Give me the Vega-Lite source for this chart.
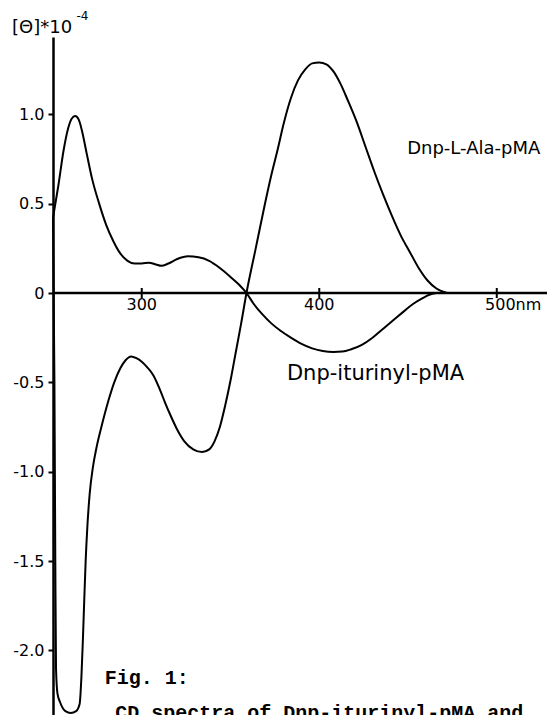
{
  "$schema": "https://vega.github.io/schema/vega-lite/v6.json",
  "width": 494,
  "height": 678,
  "autosize": {"type": "none"},
  "padding": {"left": 53, "top": 37, "right": 0, "bottom": 0},
  "background": "white",
  "config": {"view": {"stroke": null}},
  "datasets": {
    "curves": [
      {"series": "Dnp-iturinyl-pMA", "lam": 250, "v": 0.42},
      {"series": "Dnp-iturinyl-pMA", "lam": 253, "v": 0.6},
      {"series": "Dnp-iturinyl-pMA", "lam": 256, "v": 0.8},
      {"series": "Dnp-iturinyl-pMA", "lam": 258.5, "v": 0.92},
      {"series": "Dnp-iturinyl-pMA", "lam": 260.5, "v": 0.975},
      {"series": "Dnp-iturinyl-pMA", "lam": 262.5, "v": 0.99},
      {"series": "Dnp-iturinyl-pMA", "lam": 264.5, "v": 0.97},
      {"series": "Dnp-iturinyl-pMA", "lam": 266.5, "v": 0.9},
      {"series": "Dnp-iturinyl-pMA", "lam": 269, "v": 0.78},
      {"series": "Dnp-iturinyl-pMA", "lam": 272, "v": 0.64},
      {"series": "Dnp-iturinyl-pMA", "lam": 276, "v": 0.5},
      {"series": "Dnp-iturinyl-pMA", "lam": 280, "v": 0.38},
      {"series": "Dnp-iturinyl-pMA", "lam": 284, "v": 0.29},
      {"series": "Dnp-iturinyl-pMA", "lam": 288, "v": 0.22},
      {"series": "Dnp-iturinyl-pMA", "lam": 292, "v": 0.18},
      {"series": "Dnp-iturinyl-pMA", "lam": 296, "v": 0.165},
      {"series": "Dnp-iturinyl-pMA", "lam": 300, "v": 0.165},
      {"series": "Dnp-iturinyl-pMA", "lam": 304, "v": 0.17},
      {"series": "Dnp-iturinyl-pMA", "lam": 308, "v": 0.16},
      {"series": "Dnp-iturinyl-pMA", "lam": 311, "v": 0.152},
      {"series": "Dnp-iturinyl-pMA", "lam": 315, "v": 0.165},
      {"series": "Dnp-iturinyl-pMA", "lam": 320, "v": 0.19},
      {"series": "Dnp-iturinyl-pMA", "lam": 326, "v": 0.205},
      {"series": "Dnp-iturinyl-pMA", "lam": 332, "v": 0.2},
      {"series": "Dnp-iturinyl-pMA", "lam": 338, "v": 0.18},
      {"series": "Dnp-iturinyl-pMA", "lam": 344, "v": 0.14},
      {"series": "Dnp-iturinyl-pMA", "lam": 350, "v": 0.09},
      {"series": "Dnp-iturinyl-pMA", "lam": 355, "v": 0.045},
      {"series": "Dnp-iturinyl-pMA", "lam": 359, "v": 0.0},
      {"series": "Dnp-iturinyl-pMA", "lam": 363, "v": -0.06},
      {"series": "Dnp-iturinyl-pMA", "lam": 368, "v": -0.12},
      {"series": "Dnp-iturinyl-pMA", "lam": 373, "v": -0.17},
      {"series": "Dnp-iturinyl-pMA", "lam": 378, "v": -0.21},
      {"series": "Dnp-iturinyl-pMA", "lam": 384, "v": -0.25},
      {"series": "Dnp-iturinyl-pMA", "lam": 390, "v": -0.285},
      {"series": "Dnp-iturinyl-pMA", "lam": 396, "v": -0.31},
      {"series": "Dnp-iturinyl-pMA", "lam": 402, "v": -0.325},
      {"series": "Dnp-iturinyl-pMA", "lam": 408, "v": -0.33},
      {"series": "Dnp-iturinyl-pMA", "lam": 413, "v": -0.328},
      {"series": "Dnp-iturinyl-pMA", "lam": 418, "v": -0.315},
      {"series": "Dnp-iturinyl-pMA", "lam": 424, "v": -0.29},
      {"series": "Dnp-iturinyl-pMA", "lam": 430, "v": -0.25},
      {"series": "Dnp-iturinyl-pMA", "lam": 436, "v": -0.2},
      {"series": "Dnp-iturinyl-pMA", "lam": 442, "v": -0.15},
      {"series": "Dnp-iturinyl-pMA", "lam": 448, "v": -0.1},
      {"series": "Dnp-iturinyl-pMA", "lam": 453, "v": -0.06},
      {"series": "Dnp-iturinyl-pMA", "lam": 458, "v": -0.03},
      {"series": "Dnp-iturinyl-pMA", "lam": 462, "v": -0.01},
      {"series": "Dnp-iturinyl-pMA", "lam": 466, "v": 0.0},
      {"series": "Dnp-L-Ala-pMA", "lam": 250, "v": 0.42},
      {"series": "Dnp-L-Ala-pMA", "lam": 250.8, "v": -0.5},
      {"series": "Dnp-L-Ala-pMA", "lam": 251.3, "v": -1.5},
      {"series": "Dnp-L-Ala-pMA", "lam": 251.7, "v": -2.1},
      {"series": "Dnp-L-Ala-pMA", "lam": 252.5, "v": -2.24},
      {"series": "Dnp-L-Ala-pMA", "lam": 254, "v": -2.29},
      {"series": "Dnp-L-Ala-pMA", "lam": 257, "v": -2.34},
      {"series": "Dnp-L-Ala-pMA", "lam": 260, "v": -2.35},
      {"series": "Dnp-L-Ala-pMA", "lam": 263, "v": -2.34},
      {"series": "Dnp-L-Ala-pMA", "lam": 265, "v": -2.3},
      {"series": "Dnp-L-Ala-pMA", "lam": 266, "v": -2.15},
      {"series": "Dnp-L-Ala-pMA", "lam": 266.8, "v": -1.95},
      {"series": "Dnp-L-Ala-pMA", "lam": 267.6, "v": -1.72},
      {"series": "Dnp-L-Ala-pMA", "lam": 268.4, "v": -1.5},
      {"series": "Dnp-L-Ala-pMA", "lam": 269.4, "v": -1.3},
      {"series": "Dnp-L-Ala-pMA", "lam": 270.7, "v": -1.12},
      {"series": "Dnp-L-Ala-pMA", "lam": 272.4, "v": -0.98},
      {"series": "Dnp-L-Ala-pMA", "lam": 274.6, "v": -0.86},
      {"series": "Dnp-L-Ala-pMA", "lam": 277.5, "v": -0.74},
      {"series": "Dnp-L-Ala-pMA", "lam": 281, "v": -0.61},
      {"series": "Dnp-L-Ala-pMA", "lam": 284.5, "v": -0.5},
      {"series": "Dnp-L-Ala-pMA", "lam": 288, "v": -0.42},
      {"series": "Dnp-L-Ala-pMA", "lam": 291, "v": -0.375},
      {"series": "Dnp-L-Ala-pMA", "lam": 294, "v": -0.355},
      {"series": "Dnp-L-Ala-pMA", "lam": 297, "v": -0.365},
      {"series": "Dnp-L-Ala-pMA", "lam": 300, "v": -0.385},
      {"series": "Dnp-L-Ala-pMA", "lam": 303, "v": -0.415},
      {"series": "Dnp-L-Ala-pMA", "lam": 306.5, "v": -0.46},
      {"series": "Dnp-L-Ala-pMA", "lam": 310, "v": -0.535},
      {"series": "Dnp-L-Ala-pMA", "lam": 313, "v": -0.61},
      {"series": "Dnp-L-Ala-pMA", "lam": 316, "v": -0.68},
      {"series": "Dnp-L-Ala-pMA", "lam": 320, "v": -0.765},
      {"series": "Dnp-L-Ala-pMA", "lam": 324, "v": -0.83},
      {"series": "Dnp-L-Ala-pMA", "lam": 329, "v": -0.875},
      {"series": "Dnp-L-Ala-pMA", "lam": 334, "v": -0.89},
      {"series": "Dnp-L-Ala-pMA", "lam": 338, "v": -0.875},
      {"series": "Dnp-L-Ala-pMA", "lam": 341, "v": -0.83},
      {"series": "Dnp-L-Ala-pMA", "lam": 344, "v": -0.75},
      {"series": "Dnp-L-Ala-pMA", "lam": 347, "v": -0.63},
      {"series": "Dnp-L-Ala-pMA", "lam": 350, "v": -0.49},
      {"series": "Dnp-L-Ala-pMA", "lam": 353, "v": -0.33},
      {"series": "Dnp-L-Ala-pMA", "lam": 356, "v": -0.17},
      {"series": "Dnp-L-Ala-pMA", "lam": 359, "v": 0.0},
      {"series": "Dnp-L-Ala-pMA", "lam": 364, "v": 0.24},
      {"series": "Dnp-L-Ala-pMA", "lam": 369, "v": 0.48},
      {"series": "Dnp-L-Ala-pMA", "lam": 373, "v": 0.66},
      {"series": "Dnp-L-Ala-pMA", "lam": 376.5, "v": 0.8},
      {"series": "Dnp-L-Ala-pMA", "lam": 380, "v": 0.95},
      {"series": "Dnp-L-Ala-pMA", "lam": 384, "v": 1.09},
      {"series": "Dnp-L-Ala-pMA", "lam": 388, "v": 1.19},
      {"series": "Dnp-L-Ala-pMA", "lam": 392, "v": 1.25},
      {"series": "Dnp-L-Ala-pMA", "lam": 396, "v": 1.285},
      {"series": "Dnp-L-Ala-pMA", "lam": 400, "v": 1.29},
      {"series": "Dnp-L-Ala-pMA", "lam": 404, "v": 1.28},
      {"series": "Dnp-L-Ala-pMA", "lam": 408, "v": 1.24},
      {"series": "Dnp-L-Ala-pMA", "lam": 412, "v": 1.17},
      {"series": "Dnp-L-Ala-pMA", "lam": 416, "v": 1.08},
      {"series": "Dnp-L-Ala-pMA", "lam": 421, "v": 0.96},
      {"series": "Dnp-L-Ala-pMA", "lam": 426, "v": 0.82},
      {"series": "Dnp-L-Ala-pMA", "lam": 431, "v": 0.68},
      {"series": "Dnp-L-Ala-pMA", "lam": 436, "v": 0.55},
      {"series": "Dnp-L-Ala-pMA", "lam": 441, "v": 0.43},
      {"series": "Dnp-L-Ala-pMA", "lam": 446, "v": 0.32},
      {"series": "Dnp-L-Ala-pMA", "lam": 451, "v": 0.23},
      {"series": "Dnp-L-Ala-pMA", "lam": 456, "v": 0.14},
      {"series": "Dnp-L-Ala-pMA", "lam": 461, "v": 0.07},
      {"series": "Dnp-L-Ala-pMA", "lam": 466, "v": 0.025},
      {"series": "Dnp-L-Ala-pMA", "lam": 472, "v": 0.0}
    ],
    "labels": [
      {"kind": "curve2", "lam": 449.5, "v": 0.78, "text": "Dnp-L-Ala-pMA"},
      {"kind": "curve", "lam": 381.8, "v": -0.487, "text": "Dnp-iturinyl-pMA"},
      {"kind": "xlab", "lam": 300, "v": -0.095, "text": "300"},
      {"kind": "xlab", "lam": 400, "v": -0.095, "text": "400"},
      {"kind": "xlabl", "lam": 493.4, "v": -0.095, "text": "500nm"},
      {"kind": "title", "lam": 226.9, "v": 1.455, "text": "[Θ]*10"},
      {"kind": "sup", "lam": 263.2, "v": 1.53, "text": "-4"},
      {"kind": "fig", "lam": 279.2, "v": -2.188, "text": "Fig. 1:"},
      {"kind": "fig", "lam": 285.1, "v": -2.384, "text": "CD spectra of Dnp-iturinyl-pMA and"}
    ],
    "axisline": [{"lam": 250, "lam2": 528.3, "v": 0}],
    "xticks": [{"lam": 300, "v": 0}, {"lam": 400, "v": 0}, {"lam": 500, "v": 0}]
  },
  "encoding": {
    "x": {"field": "lam", "type": "quantitative", "scale": {"domain": [250, 528.3], "nice": false, "zero": false}, "axis": null},
    "y": {
      "field": "v", "type": "quantitative",
      "scale": {"domain": [-2.3615, 1.4326], "nice": false, "zero": false},
      "axis": {
        "values": [-2, -1.5, -1, -0.5, 0, 0.5, 1],
        "labelExpr": "datum.value == 0 ? '0' : (datum.value < 0 ? '-' + format(-datum.value, '.1f') : format(datum.value, '.1f'))",
        "title": null, "grid": false,
        "domainColor": "black", "domainWidth": 2.5,
        "tickColor": "black", "tickWidth": 2, "tickSize": 5,
        "labelFont": "DejaVu Sans", "labelFontSize": 16, "labelColor": "black", "labelPadding": 4
      }
    }
  },
  "layer": [
    {
      "data": {"name": "axisline"},
      "mark": {"type": "rule", "color": "black", "strokeWidth": 2.5},
      "encoding": {"x2": {"field": "lam2"}}
    },
    {
      "data": {"name": "xticks"},
      "mark": {"type": "tick", "orient": "vertical", "color": "black", "size": 10, "thickness": 2, "opacity": 1}
    },
    {
      "data": {"name": "curves"},
      "mark": {"type": "line", "interpolate": "monotone", "color": "black", "strokeWidth": 2},
      "encoding": {"detail": {"field": "series"}}
    },
    {
      "data": {"name": "labels"},
      "transform": [{"filter": "datum.kind == 'curve'"}],
      "mark": {"type": "text", "align": "left", "baseline": "alphabetic", "font": "DejaVu Sans", "fontSize": 21, "color": "black"},
      "encoding": {"text": {"field": "text"}}
    },
    {
      "data": {"name": "labels"},
      "transform": [{"filter": "datum.kind == 'curve2'"}],
      "mark": {"type": "text", "align": "left", "baseline": "alphabetic", "font": "DejaVu Sans", "fontSize": 18, "color": "black"},
      "encoding": {"text": {"field": "text"}}
    },
    {
      "data": {"name": "labels"},
      "transform": [{"filter": "datum.kind == 'xlab'"}],
      "mark": {"type": "text", "align": "center", "baseline": "alphabetic", "font": "DejaVu Sans", "fontSize": 16, "color": "black"},
      "encoding": {"text": {"field": "text"}}
    },
    {
      "data": {"name": "labels"},
      "transform": [{"filter": "datum.kind == 'xlabl'"}],
      "mark": {"type": "text", "align": "left", "baseline": "alphabetic", "font": "DejaVu Sans", "fontSize": 16, "color": "black"},
      "encoding": {"text": {"field": "text"}}
    },
    {
      "data": {"name": "labels"},
      "transform": [{"filter": "datum.kind == 'title'"}],
      "mark": {"type": "text", "align": "left", "baseline": "alphabetic", "font": "DejaVu Sans", "fontSize": 18, "color": "black"},
      "encoding": {"text": {"field": "text"}}
    },
    {
      "data": {"name": "labels"},
      "transform": [{"filter": "datum.kind == 'sup'"}],
      "mark": {"type": "text", "align": "left", "baseline": "alphabetic", "font": "DejaVu Sans", "fontSize": 12, "color": "black"},
      "encoding": {"text": {"field": "text"}}
    },
    {
      "data": {"name": "labels"},
      "transform": [{"filter": "datum.kind == 'fig'"}],
      "mark": {"type": "text", "align": "left", "baseline": "alphabetic", "font": "Liberation Mono", "fontWeight": "bold", "fontSize": 20, "color": "black"},
      "encoding": {"text": {"field": "text"}}
    }
  ]
}
